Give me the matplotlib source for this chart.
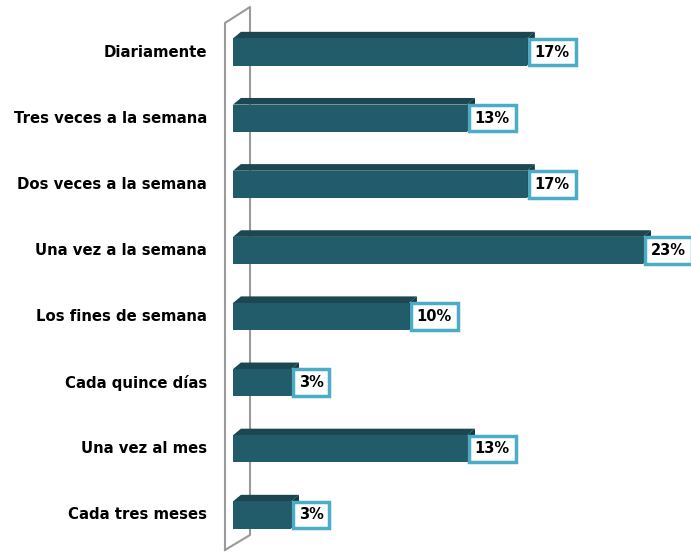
import numpy as np
import matplotlib.pyplot as plt
from matplotlib.patches import Polygon

# survey answers: how often
categories = ["Diariamente", "Tres veces a la semana", "Dos veces a la semana",
              "Una vez a la semana", "Los fines de semana", "Cada quince días",
              "Una vez al mes", "Cada tres meses"]
values = [16.7, 13.3, 16.7, 23.3, 10.0, 3.3, 13.3, 3.3]
labels = ["17%", "13%", "17%", "23%", "10%", "3%", "13%", "3%"]

front = "#225B69"
top = "#1C4650"
side = "#163A43"
wall = "#9A9A9A"

plt.rcParams['font.family'] = ['DejaVu Sans']

fig = plt.figure(figsize=(6.91, 5.54), dpi=100)
ax = fig.add_axes([233 / 691, 0, 1 - 233 / 691, 1])
ax.set_xlim(0, 458 / 17.6)
ax.set_ylim(7 + 39 / 66.14, -52 / 66.14)
ax.axis("off")

h = 0.41     # bar thickness
dx = 0.45    # depth offset in x (%)
dy = 0.1     # depth offset in y (category units)

# side wall
wx0, wx1 = -8 / 17.6, 17 / 17.6
wy_top0, wy_top1 = (23 - 52) / 66.14, (7 - 52) / 66.14
wy_bot0, wy_bot1 = 7 + (550 - 515) / 66.14, 7 + (535 - 515) / 66.14
ax.plot([wx0, wx0, wx1, wx1, wx0], [wy_bot0, wy_top0, wy_top1, wy_bot1, wy_bot0],
        color=wall, lw=1.5, clip_on=False, zorder=1)

for i, (v, lab) in enumerate(zip(values, labels)):
    y0, y1 = i - h / 2, i + h / 2
    ax.add_patch(Polygon([(0, y0), (v, y0), (v + dx, y0 - dy), (dx, y0 - dy)],
                         closed=True, facecolor=top, edgecolor="none", zorder=2))
    ax.add_patch(Polygon([(v, y0), (v + dx, y0 - dy), (v + dx, y1 - dy), (v, y1)],
                         closed=True, facecolor=side, edgecolor="none", zorder=2))
    ax.barh(i, v, height=h, color=front, zorder=3)
    ax.annotate(lab, (v, i), xytext=(5.5, 0), textcoords="offset points",
                ha="left", va="center", fontsize=10.5, fontweight="bold",
                bbox=dict(boxstyle="square,pad=0.4", facecolor="white",
                          edgecolor="#4BACC6", linewidth=2.5),
                annotation_clip=False, zorder=4)
    ax.text(-26 / 17.6, i, categories[i], ha="right", va="center",
            fontsize=10.7, fontweight="bold", color="black")

fig.savefig("out.png", dpi=100)
